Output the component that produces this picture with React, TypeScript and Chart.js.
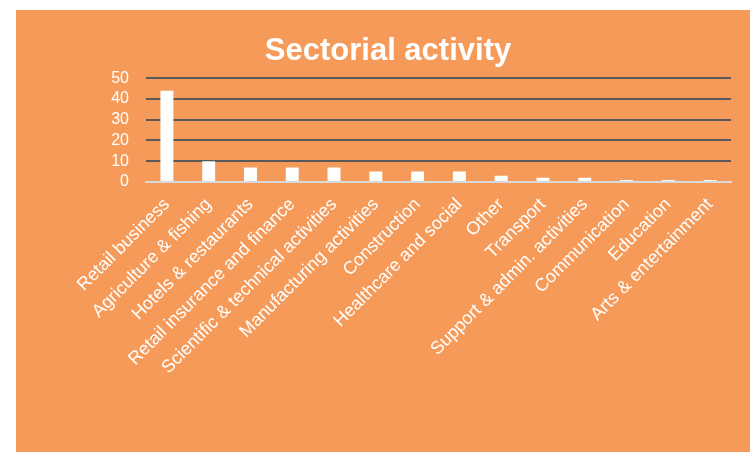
import React, { useEffect, useRef } from "react";
import { Chart, registerables } from "chart.js";

Chart.register(...registerables);

const categories = [
  "Retail business",
  "Agriculture & fishing",
  "Hotels & restaurants",
  "Retail insurance and finance",
  "Scientific & technical activities",
  "Manufacturing activities",
  "Construction",
  "Healthcare and social",
  "Other",
  "Transport",
  "Support & admin. activities",
  "Communication",
  "Education",
  "Arts & entertainment",
];
const values = [44, 10, 7, 7, 7, 5, 5, 5, 3, 2, 2, 1, 1, 1];
const yTicks = [0, 10, 20, 30, 40, 50];
const titleText = "Sectorial activity";

const BG = "#F69A59";

const bgPlugin = {
  id: "bgFill",
  beforeDraw(chart: any) {
    const { ctx, width, height } = chart;
    ctx.save();
    ctx.fillStyle = BG;
    ctx.fillRect(0, 0, width, height);
    ctx.restore();
  },
};

export default function App() {
  const ref = useRef<HTMLCanvasElement>(null);
  useEffect(() => {
    if (!ref.current) return;
    const chart = new Chart(ref.current, {
      type: "bar",
      data: {
        labels: categories,
        datasets: [
          {
            data: values,
            backgroundColor: "#FFFFFF",
            borderWidth: 0,
            barPercentage: 0.31,
            categoryPercentage: 1,
          },
        ],
      },
      plugins: [bgPlugin],
      options: {
        animation: false,
        responsive: false,
        devicePixelRatio: 1,
        layout: { padding: { left: 29, right: 19, top: 0, bottom: 0 } },
        plugins: {
          legend: { display: false },
          tooltip: { enabled: false },
          title: {
            display: true,
            text: titleText,
            color: "#FFFFFF",
            font: { family: "Liberation Sans, Arial", size: 31, weight: "bold" },
            padding: { top: 23, bottom: 8 },
          },
        },
        scales: {
          x: {
            grid: { display: false, drawTicks: false },
            border: { display: true, color: "#D9D9D9", width: 2 },
            ticks: {
              color: "#FFFFFF",
              font: { family: "Liberation Sans, Arial", size: 18 },
              maxRotation: 45,
              minRotation: 45,
              autoSkip: false,
              padding: 12,
            },
            afterFit(scale: any) {
              scale.height = 270;
            },
          },
          y: {
            min: 0,
            max: 50,
            afterBuildTicks(scale: any) {
              scale.ticks = yTicks.map((v) => ({ value: v }));
            },
            grid: {
              color: (c: any) => (c.tick && c.tick.value === 0 ? "rgba(0,0,0,0)" : "#595959"),
              lineWidth: 2,
              drawTicks: false,
            },
            border: { display: false },
            ticks: {
              color: "#FFFFFF",
              font: { family: "Liberation Sans, Arial", size: 16 },
              padding: 17,
              autoSkip: false,
            },
            afterFit(scale: any) {
              scale.width = 101;
            },
          },
        },
      },
    });
    return () => chart.destroy();
  }, []);
  return (
    <div style={{ position: "absolute", left: 16, top: 10 }}>
      <canvas ref={ref} width={734} height={442} style={{ display: "block" }} />
    </div>
  );
}
